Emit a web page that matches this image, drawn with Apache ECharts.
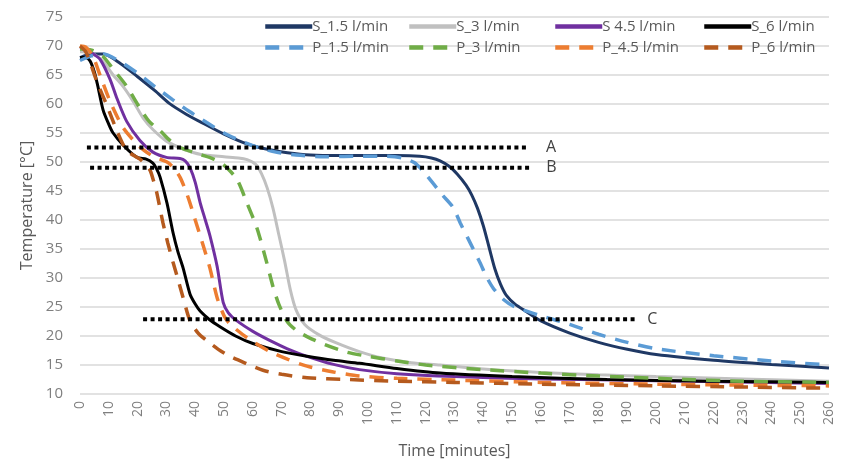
<!DOCTYPE html>
<html>
<head>
<meta charset="utf-8">
<script src="https://cdn.jsdelivr.net/npm/echarts@6/dist/echarts.min.js"></script>
<style>
  html, body { margin: 0; padding: 0; background: #fff; }
  #chart { width: 845px; height: 464px; }
</style>
</head>
<body>
<div id="chart"></div>
<script>
// Outlet temperature over time, [minute, °C] pairs per run
const s15 = [[0,68],[4,68.6],[8,68.6],[14,67],[20,64.7],[26,62.3],[31,60.1],[37,58.2],[43,56.6],[50,54.8],[55,53.7],[60,52.8],[66,52.1],[72,51.6],[80,51.2],[90,51.1],[100,51.1],[110,51.1],[118,51],[122,50.7],[125,50.2],[128,49.3],[131,47.9],[134,46],[136,44.3],[138,42],[140,39],[142,35.3],[144,31.6],[146,28.9],[148,27],[151,25.5],[155,24.2],[160,22.6],[170,20.5],[180,18.9],[190,17.7],[200,16.8],[220,15.8],[240,15.1],[260,14.5]];
const s3 = [[0,69],[4,68.8],[8,67.3],[11.5,65],[15,63],[18.4,60.5],[22,57.5],[25.3,55.6],[30,53.6],[36,52.2],[42,51.3],[50,50.9],[55,50.7],[58,50.4],[61,49.6],[63,48],[65,45.5],[67,42],[69,37.5],[71,33],[73,28],[75,24.5],[78,22],[83,20.2],[89,18.8],[97,17.3],[105,16.2],[115,15.4],[125,15],[140,14.3],[160,13.7],[180,13.3],[200,13],[230,12.6],[260,12.2]];
const s45 = [[0,69.8],[2.4,69.4],[5,68.5],[7,67.7],[10.4,64.3],[12.8,61],[16.2,57],[20.8,53.7],[25.3,51.7],[30,50.8],[34.7,50.6],[36.5,50.2],[38.2,49],[40,46.5],[41.7,43],[43.5,40],[45.1,37.3],[47.6,32],[49.7,25.8],[51.5,24],[54.5,22.6],[60,20.8],[66,19.2],[72,17.8],[78.8,16.5],[88,15.1],[97,14.2],[110,13.5],[130,13],[160,12.6],[200,12.3],[260,11.8]];
const s6 = [[0,68],[2,68],[3.5,67.4],[5,65.5],[6,63.5],[8,59],[10,56.5],[11.5,55],[15,52.9],[19.8,50.8],[23,50.5],[25.3,49.8],[26.5,48.9],[27.8,47.4],[30.2,42.9],[32.3,37.8],[34,34.5],[35.8,31.7],[38.2,27.2],[40,25.5],[41.7,24.3],[45,22.8],[48.6,21.6],[54,20],[60,18.7],[70,17.3],[78.8,16.5],[88,15.8],[97,15.3],[110,14.4],[125,13.6],[150,13],[183,12.5],[220,12.2],[260,12.0]];
const p15 = [[0,67.5],[4,68.3],[8,68.6],[14,67.3],[20,65.3],[26,63],[32,60.8],[38,58.7],[44,56.8],[50,55],[56,53.6],[62,52.5],[68,51.7],[75,51.2],[85,50.9],[95,51],[105,51],[112,50.7],[116,49.9],[119,48.5],[122.6,46.3],[126,44.2],[129.5,42.2],[132,39.5],[134.5,37],[137,34.5],[139,32.5],[141,30.3],[143.5,28.2],[147,26.3],[151,25],[160,23.5],[170,22],[180,20.3],[190,18.9],[200,17.8],[220,16.6],[240,15.7],[260,15.0]];
const p3 = [[0,69.5],[4,69.3],[8,68.2],[11.5,66],[16,63.2],[20.8,59.3],[24,57],[27.8,55.4],[31,53.8],[34.7,52.5],[41.7,51.3],[46,50.6],[48.6,50],[51,49],[54.5,47],[58,42.9],[61.5,38.5],[64.8,32.7],[67,28.5],[69,25.5],[71.8,22.6],[75,21],[78.8,19.9],[85,18.5],[92.7,17.2],[100,16.5],[110,15.7],[120,15],[140,14.2],[160,13.6],[180,13.1],[206,12.6],[230,12.2],[260,12.0]];
const p45 = [[0,70],[2,69.8],[4.5,68.2],[7,64.9],[10.4,60.5],[15,55.9],[20.8,52.6],[25.3,51],[30.2,50],[32.5,49],[34.7,47.4],[36.5,45.3],[38.2,42.9],[40,40],[41.7,37.3],[43.5,34.4],[45.1,31.7],[47.6,26.6],[50,23.5],[52,22.1],[58,19.7],[66,17.3],[72,16],[78.8,14.8],[88,13.8],[97,13.1],[110,12.7],[130,12.4],[160,12],[200,11.7],[260,11.4]];
const p6 = [[0,70],[2,69],[3.5,67.2],[5.9,63.8],[9.3,59.8],[12.8,55.4],[16.2,52],[20.8,50.5],[22.5,49.7],[24.3,48.6],[25.5,46.8],[26.7,44.6],[28.8,39.5],[30.5,36],[32.3,32.7],[33.7,30.3],[35.8,26.6],[38.2,22.6],[41,20.5],[44,19.2],[48,17.7],[52,16.5],[58,15.2],[63.5,14.1],[70,13.4],[78.8,12.8],[92.7,12.5],[110,12.2],[130,12],[160,11.7],[200,11.4],[230,11.2],[260,11.0]];

// Reference levels A, B, C: [start minute, end minute, °C]
const levelA = [2.4, 155.2, 52.5];
const levelB = [3.5, 156.3, 49.0];
const levelC = [21.9, 193.4, 22.9];

const names = ['S_1.5 l/min', 'S_3 l/min', 'S 4.5 l/min', 'S_6 l/min',
               'P_1.5 l/min', 'P_3 l/min', 'P_4.5 l/min', 'P_6 l/min'];
const colors = ['#1f3864', '#c0c0c0', '#7030a0', '#000000',
                '#5b9bd5', '#70ad47', '#ed7d31', '#b55a1e'];
const dataSets = [s15, s3, s45, s6, p15, p3, p45, p6];

const FONT = '"Liberation Sans Narrow", "Open Sans", sans-serif';

const series = dataSets.map((d, i) => ({
  name: names[i],
  type: 'line',
  data: d,
  symbol: 'none',
  smooth: 0.25,
  z: 2 + i,
  lineStyle: i < 4
    ? { color: colors[i], width: 3 }
    : { color: colors[i], width: 3.5, type: [14, 10] },
  itemStyle: { color: colors[i] }
}));

function level(label, lv, gap) {
  return {
    name: label,
    type: 'line',
    data: [[lv[0], lv[2]], [lv[1], lv[2]]],
    symbol: 'none',
    z: 20,
    silent: true,
    lineStyle: { color: '#000', width: 4, type: [4, 3.5], cap: 'butt' },
    endLabel: {
      show: true,
      formatter: label,
      color: '#404040',
      fontSize: 16,
      fontFamily: FONT,
      distance: gap
    }
  };
}
series.push(level('A', levelA, 19), level('B', levelB, 16), level('C', levelC, 10));

// one legend entry per component so each sits at its own slot
const legendLeft = [258, 402, 548, 697];
const legends = names.map((n, i) => ({
  data: [n],
  left: legendLeft[i % 4],
  top: i < 4 ? 14 : 35,
  itemWidth: 47,
  itemHeight: 14,
  itemGap: 4,
  itemStyle: { opacity: 0 },
  lineStyle: { width: 4.5 },
  textStyle: { color: '#595959', fontSize: 15, fontFamily: FONT, padding: [0, 0, 0, -5] },
  selectedMode: false
}));

const chart = echarts.init(document.getElementById('chart'), null, { renderer: 'canvas' });
chart.setOption({
  animation: false,
  backgroundColor: '#ffffff',
  legend: legends,
  grid: { left: 80, right: 16, top: 17, bottom: 63, containLabel: false },
  xAxis: {
    type: 'value',
    min: 0, max: 260, interval: 10,
    name: 'Time [minutes]',
    nameLocation: 'middle',
    nameGap: 49,
    nameTextStyle: { color: '#595959', fontSize: 16, fontFamily: FONT },
    axisLine: { show: false },
    axisTick: { show: false },
    splitLine: { show: false },
    axisLabel: { rotate: 90, color: '#7f7f7f', fontSize: 14, fontFamily: FONT, margin: 7 }
  },
  yAxis: {
    type: 'value',
    min: 10, max: 75, interval: 5,
    name: 'Temperature [°C]',
    nameLocation: 'middle',
    nameGap: 44,
    nameTextStyle: { color: '#595959', fontSize: 16, fontFamily: FONT },
    axisLine: { show: false },
    axisTick: { show: false },
    splitLine: { lineStyle: { color: '#d9d9d9', width: 1.5 } },
    axisLabel: { color: '#7f7f7f', fontSize: 15, fontFamily: FONT, margin: 17 }
  },
  series: series
});
</script>
</body>
</html>
